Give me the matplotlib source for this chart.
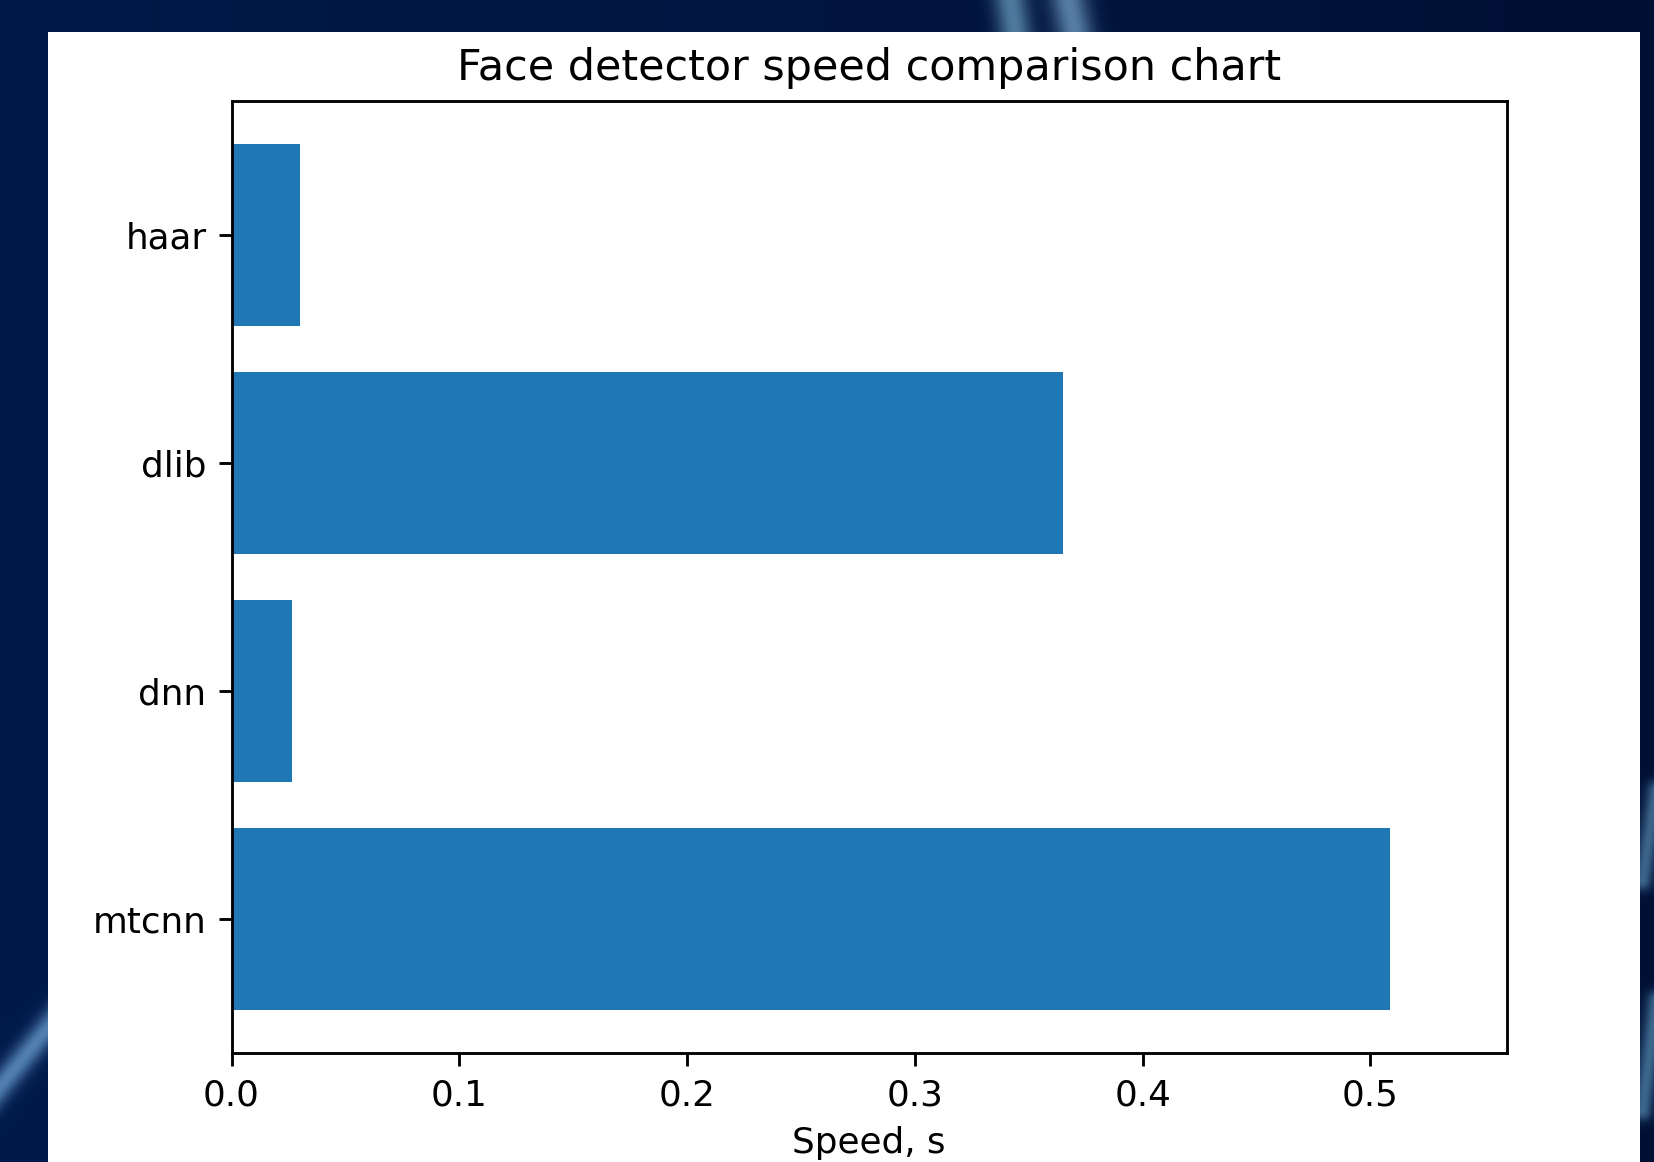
import numpy as np
import matplotlib
matplotlib.use("Agg")
import matplotlib.pyplot as plt
from matplotlib.patches import Rectangle

# Detector timings (seconds per frame)
detectors = ["mtcnn", "dnn", "dlib", "haar"]
speeds = [0.5087, 0.0267, 0.3652, 0.0302]

W, H = 1654, 1162
s = 2.575  # scale of the embedded chart relative to a default 640x480 figure

fig = plt.figure(figsize=(W / 100, H / 100), dpi=100)

# Dark navy backdrop with a few soft light streaks
yy, xx = np.mgrid[0:H, 0:W].astype(float)
t = xx / W
base = np.stack([0 * t, (26 - 10 * t), (74 - 22 * t)], axis=-1) / 255.0


def streak(img, p0, p1, width, color, strength=1.0):
    p0 = np.array(p0, float)
    p1 = np.array(p1, float)
    d = p1 - p0
    u = ((xx - p0[0]) * d[0] + (yy - p0[1]) * d[1]) / (d @ d)
    u = np.clip(u, 0, 1)
    px = p0[0] + u * d[0]
    py = p0[1] + u * d[1]
    dist2 = (xx - px) ** 2 + (yy - py) ** 2
    a = strength * np.exp(-dist2 / (2 * width ** 2))[..., None]
    col = np.array(color, float) / 255.0
    return img * (1 - a) + col * a


bg = base
bg = streak(bg, (1010, 0), (1016, 40), 12, (105, 155, 190), 0.75)
bg = streak(bg, (1068, 0), (1076, 40), 13, (115, 160, 200), 0.75)
bg = streak(bg, (-10, 1098), (60, 1012), 9, (115, 170, 220), 0.7)
bg = streak(bg, (1656, 790), (1642, 880), 7, (100, 155, 195), 0.6)
bg = streak(bg, (1656, 1000), (1642, 1110), 7, (100, 160, 200), 0.6)

bg_ax = fig.add_axes([0, 0, 1, 1])
bg_ax.imshow(bg, extent=[0, W, H, 0], aspect="auto", interpolation="bilinear")
bg_ax.set_xlim(0, W)
bg_ax.set_ylim(H, 0)
bg_ax.axis("off")

# White chart panel
bg_ax.add_patch(Rectangle((47.5, 31.5), 1640 - 47.5, H - 31.5 + 5,
                          facecolor="white", edgecolor="none"))

plt.rcParams["font.family"] = "DejaVu Sans"
ax = fig.add_axes([231.5 / W, (H - 1053) / H, (1507 - 231.5) / W, (1053 - 101) / H])
ax.barh(detectors, speeds, height=0.8, color="#1f77b4")
ax.set_xlim(0, 0.56)
ax.set_xticks([0.0, 0.1, 0.2, 0.3, 0.4, 0.5])

ax.set_title("Face detector speed comparison chart", fontsize=12 * s, pad=6 * s)
ax.set_xlabel("Speed, s", fontsize=10 * s, labelpad=4 * s)
ax.tick_params(labelsize=10 * s, width=0.8 * s, length=3.5 * s, pad=3.5 * s)
for sp in ax.spines.values():
    sp.set_linewidth(0.8 * s)

fig.savefig("out.png", dpi=100)
